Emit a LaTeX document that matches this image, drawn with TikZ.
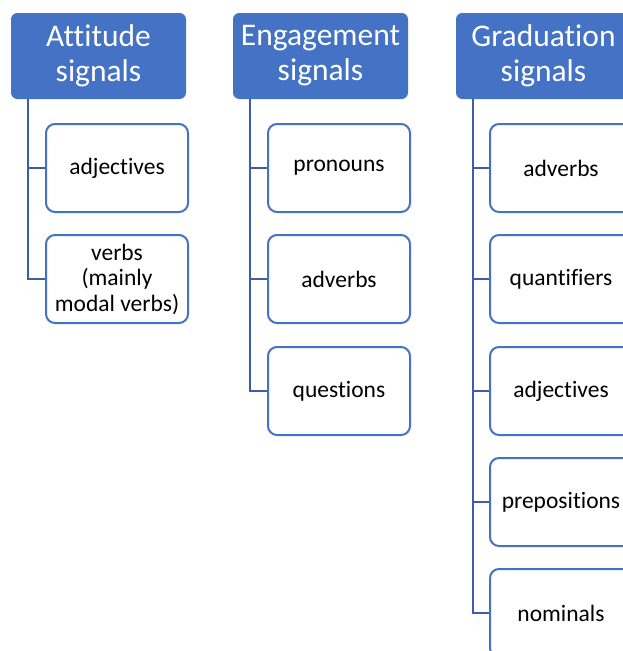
\documentclass[tikz,border=0pt]{standalone}
\usepackage{fontspec}
\setmainfont[Ligatures=NoCommon]{Carlito}
\definecolor{hdrblue}{HTML}{4472C4}
\definecolor{stemblue}{HTML}{3B5EA8}
\begin{document}
\begin{tikzpicture}[x=1pt,y=-1pt,
  header/.style={draw=hdrblue, fill=hdrblue, line width=1pt, rounded corners=6pt,
    minimum width=174pt, minimum height=85pt, inner sep=0pt, anchor=north west,
    text=white, align=center, font=\fontsize{31.5}{35}\selectfont},
  item/.style={draw=hdrblue, fill=white, line width=2pt, rounded corners=9pt,
    minimum width=142pt, minimum height=88pt, inner sep=0pt, anchor=north west,
    text=black, align=center, font=\fontsize{23.5}{25.5}\selectfont},
  stem/.style={draw=stemblue, line width=2.6pt}]
\clip (0,0) rectangle (623,651);
\fill[white] (0,0) rectangle (623,651);

% column headers
\node[header] (h1) at (11,13) {Attitude\\signals};
\node[header] (h2) at (233,13) {Engagement\\signals};
\node[header] (h3) at (456,13) {Graduation\\signals};

% attitude items
\node[item] (a1) at (45,123) {adjectives};
\node[item] (a2) at (45,234) {verbs\\(mainly\\modal verbs)};

% engagement items
\node[item] (e1) at (267,123) {pronouns};
\node[item] (e2) at (267,234) {adverbs};
\node[item] (e3) at (267,346) {questions};

% graduation items
\node[item] (g1) at (489,123) {adverbs};
\node[item] (g2) at (489,234) {quantifiers};
\node[item] (g3) at (489,346) {adjectives};
\node[item] (g4) at (489,457) {prepositions};
\node[item] (g5) at (489,568) {nominals};

% connectors: a stem below each header with a branch to every item
\foreach \c in {a1,a2} \draw[stem] ([xshift=17pt]h1.south west) |- (\c.west);
\foreach \c in {e1,e2,e3} \draw[stem] ([xshift=17pt]h2.south west) |- (\c.west);
\foreach \c in {g1,g2,g3,g4,g5} \draw[stem] ([xshift=17pt]h3.south west) |- (\c.west);
\end{tikzpicture}
\end{document}
